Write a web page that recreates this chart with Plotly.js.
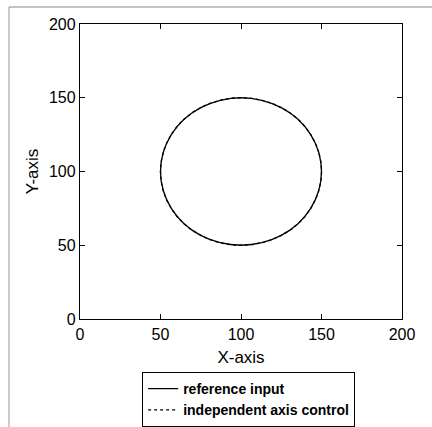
<!DOCTYPE html>
<html>
<head>
<meta charset="utf-8">
<script src="https://cdn.plot.ly/plotly-3.0.1.min.js"></script>
<style>html,body{margin:0;padding:0;background:#fff;}#chart{width:432px;height:427px;}</style>
</head>
<body>
<div id="chart"></div>
<script>
// Points (centre ~100,100, radius ~50)
const refX = [150, 148.3, 143.3, 135.4, 125, 112.9, 100, 87.1, 75, 64.6, 56.7, 51.7, 50, 51.7, 56.7, 64.6, 75, 87.1, 100, 112.9, 125, 135.4, 143.3, 148.3, 150];
const refY = [100, 112.9, 125, 135.4, 143.3, 148.3, 150, 148.3, 143.3, 135.4, 125, 112.9, 100, 87.1, 75, 64.6, 56.7, 51.7, 50, 51.7, 56.7, 64.6, 75, 87.1, 100];
const ctlX = refX.slice();
const ctlY = refY.slice();
const tickVals = [0, 50, 100, 150, 200];
const seriesNames = ['reference input', 'independent axis control'];

const traces = [
  {x: refX, y: refY, type: 'scatter', mode: 'lines', name: seriesNames[0],
   line: {color: '#000', width: 1.3, shape: 'spline', dash: 'solid'}},
  {x: ctlX, y: ctlY, type: 'scatter', mode: 'lines', name: seriesNames[1],
   line: {color: '#000', width: 1.3, shape: 'spline', dash: '3px,3px'}}
];

const axisCommon = {
  range: [0, 200], tickvals: tickVals, ticks: 'inside', ticklen: 5, tickwidth: 1,
  tickcolor: '#000', showline: true, linecolor: '#000', linewidth: 1.2, mirror: 'ticks',
  showgrid: false, zeroline: false,
  tickfont: {family: 'Liberation Sans, Arial, sans-serif', size: 16, color: '#000'}
};

const layout = {
  width: 432, height: 427,
  margin: {l: 80, r: 30, t: 24, b: 108, autoexpand: false},
  paper_bgcolor: '#fff', plot_bgcolor: '#fff',
  showlegend: true,
  xaxis: Object.assign({}, axisCommon, {
    ticklabelstandoff: 1,
    title: {text: 'X-axis', standoff: 8, font: {family: 'Liberation Sans, Arial, sans-serif', size: 17, color: '#000'}}
  }),
  yaxis: Object.assign({}, axisCommon, {
    title: {text: 'Y-axis', standoff: 6, font: {family: 'Liberation Sans, Arial, sans-serif', size: 17, color: '#000'}}
  }),
  legend: {
    x: 0.193, y: -0.18, xanchor: 'left', yanchor: 'top',
    bordercolor: '#000', borderwidth: 1, bgcolor: '#fff',
    itemwidth: 30, tracegroupgap: 0,
    font: {family: 'Liberation Sans, Arial, sans-serif', size: 14, color: '#000', weight: 'bold'}
  },
  shapes: [
    {type: 'line', xref: 'paper', yref: 'paper', x0: -0.2205, x1: 1.1, y0: 1.0576, y1: 1.0576,
     line: {color: '#888', width: 1}},
    {type: 'line', xref: 'paper', yref: 'paper', x0: -0.2205, x1: -0.2205, y0: 1.0576, y1: -0.366,
     line: {color: '#999', width: 1}}
  ]
};

Plotly.newPlot('chart', traces, layout, {displayModeBar: false, staticPlot: true});
</script>
</body>
</html>
